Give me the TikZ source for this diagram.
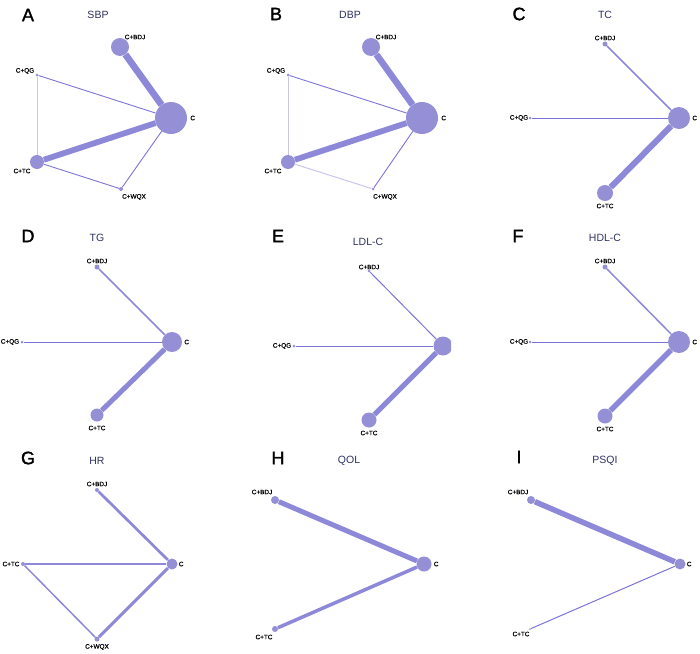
\documentclass[tikz,border=0pt]{standalone}
\usepackage{fontspec}
\setmainfont{Liberation Sans}
\newfontfamily\tagfont{Liberation Sans}[FakeBold=1.6]
\newfontfamily\lblfont{Liberation Sans}[FakeBold=0.8]
\usepackage{tikz}
\usetikzlibrary{positioning}

\definecolor{netfill}{HTML}{9590D6}
\definecolor{netline}{HTML}{8E88D8}
\definecolor{netthin}{HTML}{7C74D8}
\definecolor{netpale}{HTML}{C9C6EC}
\definecolor{ttlcol}{HTML}{2E3160}

\tikzset{
	vtx/.style={circle, fill=netfill, inner sep=0pt, minimum size=#1},
	lbl/.style={font=\lblfont\fontsize{6.4}{6.4}\selectfont, inner sep=0pt},
	ttl/.style={font=\fontsize{10.5}{10.5}\selectfont, text=ttlcol, inner sep=0pt},
	tag/.style={font=\tagfont\fontsize{18}{18}\selectfont, inner sep=0pt},
	lnk/.style={draw=netline, line width=#1},
	fine/.style={draw=netthin, line width=#1},
	pale/.style={draw=netpale, line width=1pt}
}

\begin{document}
\begin{tikzpicture}[x=1pt, y=-1pt]
		\useasboundingbox (0,0) rectangle (700,653);

		% A: SBP
		\node[tag] (tA) at (28,15) {A};
		\node[ttl] (hA) at (98,15) {SBP};
		\node[vtx=32pt] (aC) at (171,118) {};
		\node[vtx=18pt] (aBDJ) at (120,47) {};
		\node[vtx=3pt] (aQG) at (37,75) {};
		\node[vtx=14pt] (aTC) at (37,162) {};
		\node[vtx=4pt] (aWQX) at (121,189) {};
		\node[lbl, right = 3pt of aC] (aCl) {C};
		\node[lbl] (aBDJl) at (135,37) {C+BDJ};
		\node[lbl] (aQGl) at (25,71) {C+QG};
		\node[lbl] (aTCl) at (22,171) {C+TC};
		\node[lbl] (aWQXl) at (134,197) {C+WQX};
		\draw[lnk=6.7pt] (aBDJ) -- (aC);
		\draw[lnk=5.8pt] (aTC) -- (aC);
		\draw[fine=0.9pt] (aQG) -- (aC);
		\draw[pale] (aQG) -- (aTC);
		\draw[fine=0.9pt] (aTC) -- (aWQX);
		\draw[fine=0.9pt] (aWQX) -- (aC);

		% B: DBP
		\node[tag] (tB) at (276,14) {B};
		\node[ttl] (hB) at (350,15) {DBP};
		\node[vtx=32pt] (bC) at (422,118) {};
		\node[vtx=18pt] (bBDJ) at (371,47) {};
		\node[vtx=3pt] (bQG) at (288,75) {};
		\node[vtx=14pt] (bTC) at (288,162) {};
		\node[vtx=3pt] (bWQX) at (373,189) {};
		\node[lbl, right = 3pt of bC] (bCl) {C};
		\node[lbl] (bBDJl) at (386,37) {C+BDJ};
		\node[lbl] (bQGl) at (276,71) {C+QG};
		\node[lbl] (bTCl) at (273,171) {C+TC};
		\node[lbl] (bWQXl) at (385,197) {C+WQX};
		\draw[lnk=6.5pt] (bBDJ) -- (bC);
		\draw[lnk=5.8pt] (bTC) -- (bC);
		\draw[fine=0.9pt] (bQG) -- (bC);
		\draw[pale] (bQG) -- (bTC);
		\draw[pale] (bTC) -- (bWQX);
		\draw[fine=0.9pt] (bWQX) -- (bC);

		% C: TC
		\node[tag] (tC) at (519,14) {C};
		\node[ttl] (hC) at (605,15) {TC};
		\node[vtx=22pt] (cC) at (679,118) {};
		\node[vtx=5pt] (cBDJ) at (605,44) {};
		\node[vtx=3pt] (cQG) at (530,118) {};
		\node[vtx=16pt] (cTC) at (605,193) {};
		\node[lbl, right = 2pt of cC] (cCl) {C};
		\node[lbl] (cBDJl) at (605,38) {C+BDJ};
		\node[lbl] (cQGl) at (519,118) {C+QG};
		\node[lbl] (cTCl) at (605,206) {C+TC};
		\draw[lnk=1.6pt] (cBDJ) -- (cC);
		\draw[fine=1pt] (cQG) -- (cC);
		\draw[lnk=6pt] (cTC) -- (cC);

		% D: TG
		\node[tag] (tD) at (28,236) {D};
		\node[ttl] (hD) at (97,238) {TG};
		\node[vtx=20pt] (dC) at (172,342) {};
		\node[vtx=5pt] (dBDJ) at (97,267) {};
		\node[vtx=3pt] (dQG) at (22,342) {};
		\node[vtx=13pt] (dTC) at (97,415) {};
		\node[lbl, right = 2pt of dC] (dCl) {C};
		\node[lbl] (dBDJl) at (97,261) {C+BDJ};
		\node[lbl] (dQGl) at (10,342) {C+QG};
		\node[lbl] (dTCl) at (97,428) {C+TC};
		\draw[lnk=1.7pt] (dBDJ) -- (dC);
		\draw[fine=1pt] (dQG) -- (dC);
		\draw[lnk=5pt] (dTC) -- (dC);

		% E: LDL-C
		\node[tag] (tE) at (278,236) {E};
		\node[ttl] (hE) at (368,242) {LDL-C};
		\begin{scope}
			\clip (233,210) rectangle (451,440);
			\node[vtx=19pt] (eC) at (443,346) {};
		\end{scope}
		\node[vtx=3pt] (eBDJ) at (369,271) {};
		\node[vtx=3pt] (eQG) at (294,346) {};
		\node[vtx=15pt] (eTC) at (369,420) {};
		\node[lbl] (eBDJl) at (369,267) {C+BDJ};
		\node[lbl] (eQGl) at (282,346) {C+QG};
		\node[lbl] (eTCl) at (369,433) {C+TC};
		\draw[fine=1pt] (eBDJ) -- (eC);
		\draw[fine=1pt] (eQG) -- (eC);
		\draw[lnk=5.2pt] (eTC) -- (eC);

		% F: HDL-C
		\node[tag] (tF) at (518,236) {F};
		\node[ttl] (hF) at (605,238) {HDL-C};
		\node[vtx=22pt] (fC) at (679,342) {};
		\node[vtx=5pt] (fBDJ) at (605,267) {};
		\node[vtx=3pt] (fQG) at (530,342) {};
		\node[vtx=15pt] (fTC) at (605,416) {};
		\node[lbl, right = 2pt of fC] (fCl) {C};
		\node[lbl] (fBDJl) at (605,261) {C+BDJ};
		\node[lbl] (fQGl) at (519,342) {C+QG};
		\node[lbl] (fTCl) at (605,429) {C+TC};
		\draw[lnk=1.5pt] (fBDJ) -- (fC);
		\draw[fine=1pt] (fQG) -- (fC);
		\draw[lnk=5.5pt] (fTC) -- (fC);

		% G: HR
		\node[tag] (tG) at (28,458) {G};
		\node[ttl] (hG) at (97,461) {HR};
		\node[vtx=11pt] (gC) at (172,564) {};
		\node[vtx=4pt] (gBDJ) at (97,490) {};
		\node[vtx=4pt] (gTC) at (23,564) {};
		\node[vtx=5pt] (gWQX) at (97,639) {};
		\node[lbl, right = 1pt of gC] (gCl) {C};
		\node[lbl] (gBDJl) at (97,484) {C+BDJ};
		\node[lbl] (gTCl) at (11,564) {C+TC};
		\node[lbl] (gWQXl) at (97,647) {C+WQX};
		\draw[lnk=2.7pt] (gBDJ) -- (gC);
		\draw[lnk=2pt] (gTC) -- (gC);
		\draw[lnk=1.5pt] (gTC) -- (gWQX);
		\draw[lnk=3pt] (gWQX) -- (gC);

		% H: QOL
		\node[tag] (tH) at (278,458) {H};
		\node[ttl] (hH) at (349,461) {QOL};
		\node[vtx=15pt] (hC) at (424,564) {};
		\node[vtx=8pt] (hBDJ) at (275,500) {};
		\node[vtx=6pt] (hTC) at (275,629) {};
		\node[lbl, right = 2pt of hC] (hCl) {C};
		\node[lbl] (hBDJl) at (262,492) {C+BDJ};
		\node[lbl] (hTCl) at (264,637) {C+TC};
		\draw[lnk=5pt] (hBDJ) -- (hC);
		\draw[lnk=3.5pt] (hTC) -- (hC);

		% I: PSQI
		\node[tag] (tI) at (519,457) {I};
		\node[ttl] (hI) at (605,461) {PSQI};
		\node[vtx=11pt] (iC) at (680,564) {};
		\node[vtx=8pt] (iBDJ) at (531,500) {};
		\node[vtx=2pt] (iTC) at (530,629) {};
		\node[lbl, right = 1pt of iC] (iCl) {C};
		\node[lbl] (iBDJl) at (518,492) {C+BDJ};
		\node[lbl] (iTCl) at (521,634) {C+TC};
		\draw[lnk=5.5pt] (iBDJ) -- (iC);
		\draw[fine=1pt] (iTC) -- (iC);
	\end{tikzpicture}
\end{document}
